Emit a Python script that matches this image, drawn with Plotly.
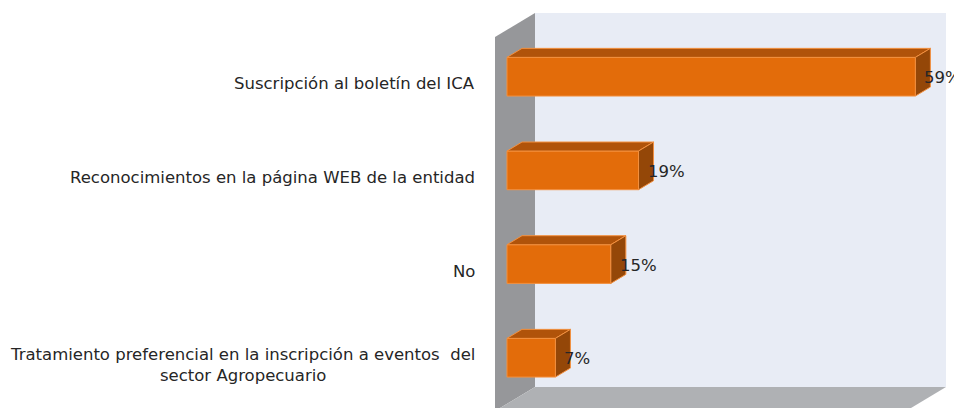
import plotly.graph_objects as go

# ---- data ----
categories = [
    "Suscripción al boletín del ICA",
    "Reconocimientos en la página WEB de la entidad",
    "No",
    "Tratamiento preferencial en la inscripción a eventos  del<br>sector Agropecuario",
]
values = [59, 19, 15, 7]
value_labels = ["59%", "19%", "15%", "7%"]

# ---- geometry / style ----
W, H = 962, 408
OFF = 8.0                # page body margin compensation
X0_PX = 507.0 - OFF      # pixel of value 0 (front face)
PX_PER_UNIT = 408.4 / 59  # pixels per percent
ROW0_PX = 76.7 - OFF     # pixel centre of first bar
ROW_PX = 93.67           # pixel spacing between bars
BAR_W = 0.413            # bar thickness in category units
DEPTH_X_PX, DEPTH_Y_PX = 15.0, 9.0

dx = DEPTH_X_PX / PX_PER_UNIT
dy = DEPTH_Y_PX / ROW_PX

x_range = [-X0_PX / PX_PER_UNIT, (W - X0_PX) / PX_PER_UNIT]
y_range = [(H - ROW0_PX) / ROW_PX, -ROW0_PX / ROW_PX]

FRONT = "#E36C0A"
TOP = "#B0530A"
SIDE = "#944708"
EDGE = "#F3903F"
FONT = "DejaVu Sans"
TXT = "#262626"
FS = 16.5

ypos = list(range(len(categories)))

fig = go.Figure()

# front faces
fig.add_trace(go.Bar(
    y=ypos, x=values, orientation="h", width=BAR_W,
    marker=dict(color=FRONT, line=dict(color=EDGE, width=1)),
    hoverinfo="skip", showlegend=False,
))

# top and side faces derived from data
for yi, v in zip(ypos, values):
    top_y = yi - BAR_W / 2
    bot_y = yi + BAR_W / 2
    fig.add_trace(go.Scatter(
        x=[0, v, v + dx, dx, 0],
        y=[top_y, top_y, top_y - dy, top_y - dy, top_y],
        fill="toself", fillcolor=TOP, mode="lines",
        line=dict(color=EDGE, width=1), hoverinfo="skip", showlegend=False,
    ))
    fig.add_trace(go.Scatter(
        x=[v, v + dx, v + dx, v, v],
        y=[top_y, top_y - dy, bot_y - dy, bot_y, top_y],
        fill="toself", fillcolor=SIDE, mode="lines",
        line=dict(color=EDGE, width=1), hoverinfo="skip", showlegend=False,
    ))

# walls (decoration, paper coordinates from pixel positions)
def P(px, py):
    return f"{(px - OFF) / W:.5f},{1 - (py - OFF) / H:.5f}"

shapes = [
    dict(type="path", xref="paper", yref="paper", layer="below",
         path=f"M{P(535,13)} L{P(946,13)} L{P(946,387)} L{P(535,387)} Z",
         fillcolor="#E8ECF5", line=dict(width=0)),
    dict(type="path", xref="paper", yref="paper", layer="below",
         path=f"M{P(495,37)} L{P(535,13)} L{P(535,387)} L{P(495,411)} Z",
         fillcolor="#96979A", line=dict(width=0)),
    dict(type="path", xref="paper", yref="paper", layer="below",
         path=f"M{P(535,387)} L{P(946,387)} L{P(906,411)} L{P(495,411)} Z",
         fillcolor="#AFB1B4", line=dict(width=0)),
]

annotations = []
for yi, cat in zip(ypos, categories):
    annotations.append(dict(
        xref="paper", yref="y", x=(477 - OFF) / W, y=yi, yshift=-7,
        text=cat, showarrow=False, xanchor="right", yanchor="middle",
        align="center", font=dict(family=FONT, size=FS, color=TXT),
    ))
for yi, v, lab in zip(ypos, values, value_labels):
    annotations.append(dict(
        xref="x", yref="y", x=v, y=yi, xshift=7, yshift=-1,
        text=lab, showarrow=False, xanchor="left", yanchor="middle",
        font=dict(family=FONT, size=FS, color=TXT),
    ))

fig.update_layout(
    width=W, height=H,
    margin=dict(l=0, r=0, t=0, b=0),
    paper_bgcolor="white", plot_bgcolor="rgba(0,0,0,0)",
    xaxis=dict(range=x_range, visible=False, fixedrange=True),
    yaxis=dict(range=y_range, visible=False, fixedrange=True),
    barmode="overlay",
    shapes=shapes, annotations=annotations,
    showlegend=False,
)

fig.write_html("out.html")
